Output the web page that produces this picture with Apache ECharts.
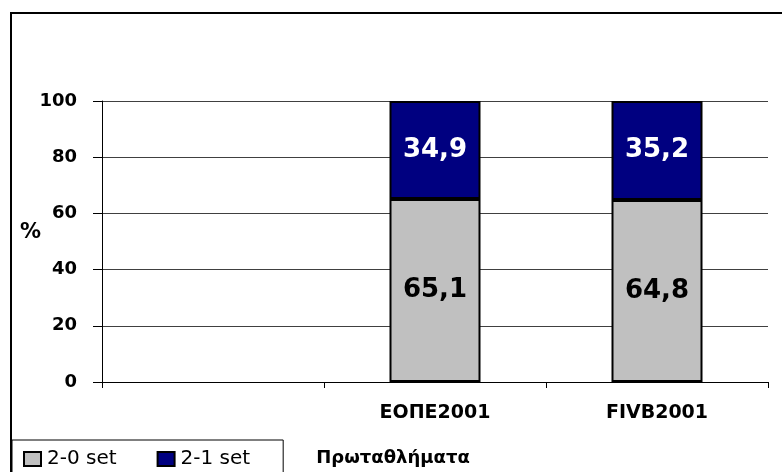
<!DOCTYPE html>
<html>
<head>
<meta charset="utf-8">
<script src="https://cdn.jsdelivr.net/npm/echarts@6/dist/echarts.min.js"></script>
<style>
  html, body { margin: 0; padding: 0; background: #fff; }
  #chart { width: 782px; height: 472px; }
</style>
</head>
<body>
<div id="chart"></div>
<script>
const categories = ['', 'ΕΟΠΕ2001', 'FIVB2001']
const set20 = [null, 65.1, 64.8]
const set21 = [null, 34.9, 35.2]
const yTicks = [0, 20, 40, 60, 80, 100]

const font = '"DejaVu Sans", Arial, sans-serif'
const fmt = p => (p.value == null ? '' : String(p.value).replace('.', ','))

const myChart = echarts.init(document.getElementById('chart'))
myChart.setOption({
  animation: false,
  backgroundColor: '#fff',
  textStyle: { fontFamily: font },
  graphic: [
    {
      type: 'rect',
      z: -10,
      shape: { x: 11, y: 13, width: 900, height: 600 },
      style: { fill: 'none', stroke: '#000', lineWidth: 2 },
    },
    {
      // y axis title
      type: 'text',
      left: 20,
      top: 222,
      style: { text: '%', fontFamily: font, fontSize: 21, fontWeight: 'bold', fill: '#000' },
    },
  ],
  grid: { left: 102, right: 14, top: 101, bottom: 87 },
  legend: {
    left: 12,
    top: 440,
    padding: [9, 33, 14, 11],
    itemGap: 40,
    itemWidth: 17,
    itemHeight: 14,
    icon: 'rect',
    backgroundColor: '#fff',
    borderColor: '#000',
    borderWidth: 1,
    borderRadius: 0,
    textStyle: { fontFamily: font, fontSize: 20, color: '#000', padding: [0, 0, 0, 1] },
    data: ['2-0 set', '2-1 set'],
  },
  xAxis: {
    type: 'category',
    data: categories,
    name: 'Πρωταθλήματα',
    nameLocation: 'middle',
    nameGap: 67,
    nameTextStyle: {
      fontFamily: font, fontSize: 18, fontWeight: 'bold', color: '#000',
      padding: [0, 84, 0, 0],
    },
    axisLine: { lineStyle: { color: '#000', width: 1 } },
    axisTick: { show: true, length: 6, interval: 0, lineStyle: { color: '#000' } },
    axisLabel: { interval: 0, margin: 22, fontFamily: font, fontSize: 19, fontWeight: 'bold', color: '#000' },
  },
  yAxis: {
    type: 'value',
    min: yTicks[0],
    max: yTicks[yTicks.length - 1],
    interval: 20,
    axisLine: { show: true, lineStyle: { color: '#000', width: 1 } },
    axisTick: { show: true, length: 9, lineStyle: { color: '#000' } },
    axisLabel: { margin: 25, fontFamily: font, fontSize: 18, fontWeight: 'bold', color: '#000' },
    splitLine: { lineStyle: { color: '#404040', width: 1 } },
  },
  series: [
    {
      name: '2-0 set',
      type: 'bar',
      stack: 'Total',
      barWidth: 91,
      data: set20,
      itemStyle: { color: '#C0C0C0', borderColor: '#000', borderWidth: 2 },
      label: {
        show: true, position: 'inside', formatter: fmt,
        fontFamily: font, fontSize: 26, fontWeight: 'bold', color: '#000',
      },
    },
    {
      name: '2-1 set',
      type: 'bar',
      stack: 'Total',
      barWidth: 91,
      data: set21,
      itemStyle: { color: '#000080', borderColor: '#000', borderWidth: 2 },
      label: {
        show: true, position: 'inside', formatter: fmt,
        fontFamily: font, fontSize: 26, fontWeight: 'bold', color: '#fff',
      },
    },
  ],
})
</script>
</body>
</html>
